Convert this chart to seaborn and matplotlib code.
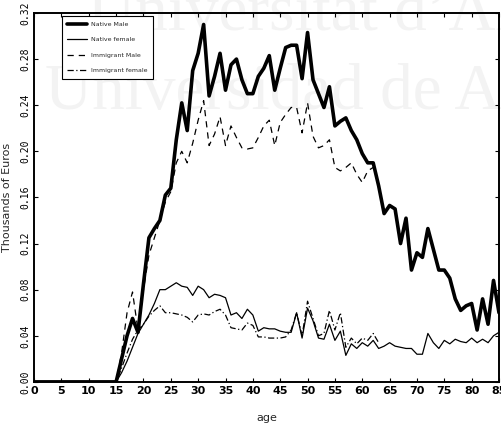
import numpy as np
import pandas as pd
import matplotlib
matplotlib.use("Agg")
import matplotlib.pyplot as plt
import seaborn as sns

# Average earnings by age (thousands of euros)
ages_native = list(range(0, 86))
native_male = [0.0] * 16 + [
    0.020, 0.040, 0.055, 0.043, 0.085, 0.125, 0.133, 0.140, 0.162, 0.168,  # 16-25
    0.210, 0.242, 0.218, 0.270, 0.285, 0.310, 0.248, 0.265, 0.285, 0.253,  # 26-35
    0.275, 0.280, 0.262, 0.250, 0.250, 0.265, 0.272, 0.283, 0.253, 0.272,  # 36-45
    0.290, 0.292, 0.292, 0.263, 0.303, 0.262, 0.250, 0.238, 0.256, 0.222,  # 46-55
    0.226, 0.229, 0.218, 0.210, 0.198, 0.190, 0.190, 0.170, 0.146, 0.153,  # 56-65
    0.150, 0.120, 0.142, 0.097, 0.112, 0.108, 0.133, 0.115, 0.097, 0.097,  # 66-75
    0.090, 0.072, 0.062, 0.066, 0.068, 0.045, 0.072, 0.050, 0.088, 0.060,  # 76-85
]
native_female = [0.0] * 16 + [
    0.008, 0.018, 0.030, 0.042, 0.050, 0.058, 0.068, 0.080, 0.080, 0.083,  # 16-25
    0.086, 0.083, 0.082, 0.075, 0.083, 0.080, 0.073, 0.076, 0.075, 0.073,  # 26-35
    0.058, 0.060, 0.055, 0.063, 0.058, 0.044, 0.047, 0.046, 0.046, 0.044,  # 36-45
    0.043, 0.043, 0.060, 0.038, 0.064, 0.053, 0.038, 0.037, 0.050, 0.036,  # 46-55
    0.044, 0.023, 0.033, 0.029, 0.034, 0.031, 0.036, 0.029, 0.031, 0.034,  # 56-65
    0.031, 0.030, 0.029, 0.029, 0.024, 0.024, 0.042, 0.034, 0.029, 0.036,  # 66-75
    0.033, 0.037, 0.035, 0.034, 0.038, 0.034, 0.037, 0.034, 0.040, 0.043,  # 76-85
]
ages_imm_male = list(range(0, 63))
immigrant_male = [0.0] * 16 + [
    0.025, 0.060, 0.078, 0.045, 0.080, 0.110, 0.125, 0.140, 0.156, 0.165,  # 16-25
    0.190, 0.200, 0.190, 0.207, 0.227, 0.244, 0.205, 0.215, 0.230, 0.205,  # 26-35
    0.222, 0.212, 0.203, 0.202, 0.203, 0.212, 0.222, 0.227, 0.205, 0.225,  # 36-45
    0.232, 0.238, 0.238, 0.216, 0.242, 0.213, 0.203, 0.205, 0.210, 0.186,  # 46-55
    0.183, 0.186, 0.190, 0.180, 0.173, 0.183, 0.186,                       # 56-62
]
ages_imm_female = list(range(0, 64))
immigrant_female = [0.0] * 16 + [
    0.012, 0.025, 0.037, 0.045, 0.050, 0.057, 0.062, 0.066, 0.060, 0.060,  # 16-25
    0.059, 0.058, 0.056, 0.052, 0.058, 0.059, 0.058, 0.061, 0.063, 0.058,  # 26-35
    0.047, 0.046, 0.045, 0.051, 0.049, 0.039, 0.039, 0.038, 0.038, 0.038,  # 36-45
    0.039, 0.045, 0.060, 0.040, 0.070, 0.055, 0.040, 0.042, 0.062, 0.045,  # 46-55
    0.060, 0.030, 0.038, 0.033, 0.038, 0.036, 0.042, 0.034,                # 56-63
]

series_labels = ["Native Male", "Native female", "Immigrant Male", "Immigrant female"]
x_ticks = list(range(0, 90, 5))
y_ticks = [0.00, 0.04, 0.08, 0.12, 0.16, 0.20, 0.24, 0.28, 0.32]

frames = [
    pd.DataFrame({"age": ages_native, "value": native_male, "group": series_labels[0]}),
    pd.DataFrame({"age": ages_native, "value": native_female, "group": series_labels[1]}),
    pd.DataFrame({"age": ages_imm_male, "value": immigrant_male, "group": series_labels[2]}),
    pd.DataFrame({"age": ages_imm_female, "value": immigrant_female, "group": series_labels[3]}),
]
df = pd.concat(frames, ignore_index=True)

sns.set_style("ticks")
plt.rcParams["font.family"] = ["DejaVu Sans"]

fig = plt.figure(figsize=(5.01, 4.32), dpi=100)
ax = fig.add_axes([0.068, 0.116, 0.928, 0.854])
ax.set_facecolor("none")

# faint background lettering
for txt, x0, y0 in [("Universitat d\u2019Alacant", 0.175, 0.93),
                    ("Universidad de Alicante", 0.09, 0.748)]:
    ax.text(x0, y0, txt, transform=fig.transFigure, fontsize=47,
            family=["Liberation Serif", "DejaVu Serif"], color="#f3f3f3",
            zorder=0, clip_on=False)

styles = {
    series_labels[0]: dict(linewidth=2.6, linestyle="-"),
    series_labels[1]: dict(linewidth=0.9, linestyle="-"),
    series_labels[2]: dict(linewidth=0.9, linestyle=(0, (5, 4))),
    series_labels[3]: dict(linewidth=0.9, linestyle=(0, (5, 2, 1, 2))),
}
for name in series_labels:
    sub = df[df["group"] == name]
    sns.lineplot(data=sub, x="age", y="value", ax=ax, color="black",
                 label=name, zorder=3, **styles[name])

ax.set_xlim(0, 85)
ax.set_ylim(0, 0.32)
ax.set_xticks(x_ticks)
ax.set_yticks(y_ticks)
ax.set_xticklabels([str(t) for t in x_ticks],
                   family=["Liberation Sans Narrow", "DejaVu Sans Condensed", "DejaVu Sans"],
                   fontsize=8, fontweight="bold")
ax.set_yticklabels([f"{t:.2f}" for t in y_ticks], rotation=90, va="center",
                   family=["DejaVu Sans Mono"], fontsize=7)
ax.tick_params(direction="in", length=3, width=0.8, top=True, right=True,
               colors="black", pad=3)
for s in ax.spines.values():
    s.set_visible(True)
    s.set_linewidth(1.4)
    s.set_color("black")

ax.set_xlabel("age", fontsize=8, family=["Liberation Sans Narrow", "DejaVu Sans"], labelpad=12)
ax.set_ylabel("Thousands of Euros", fontsize=8, labelpad=6)

leg = ax.legend(loc="upper left", bbox_to_anchor=(0.053, 1.0), fontsize=4.5,
                frameon=True, fancybox=False, edgecolor="black", framealpha=1,
                handlelength=3.2, labelspacing=1.6, borderpad=0.9, handletextpad=0.6)
leg.get_frame().set_linewidth(0.8)
leg.set_zorder(5)

fig.savefig("out.png", dpi=100)
